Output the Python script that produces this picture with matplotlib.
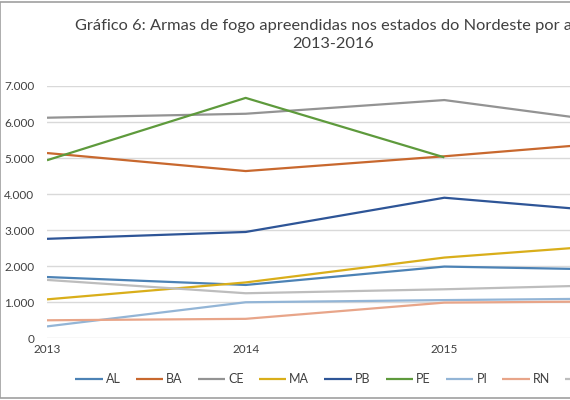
import numpy as np
import matplotlib.pyplot as plt
from matplotlib.patches import Rectangle

plt.rcParams['font.family'] = ['Lato', 'DejaVu Sans']

anos = ['2013', '2014', '2015', '2016']
estados = ['AL', 'BA', 'CE', 'MA', 'PB', 'PE', 'PI', 'RN', 'SE']

al = [1700, 1480, 1990, 1890]
ba = [5140, 4640, 5050, 5500]
ce = [6120, 6230, 6610, 5880]
ma = [1080, 1550, 2240, 2650]
pb = [2760, 2950, 3900, 3440]
pe = [4940, 6670, 5020, np.nan]
pi = [330, 1000, 1060, 1110]
rn = [500, 540, 990, 1030]
se = [1620, 1250, 1360, 1500]

series = [al, ba, ce, ma, pb, pe, pi, rn, se]
cores = ['#4C82B5', '#C8682E', '#939393', '#D9AE1A', '#2E5597',
         '#5E9A3C', '#93B5D6', '#E8A589', '#BDBDBD']

W, H = 570, 400
fig = plt.figure(figsize=(W / 100, H / 100), dpi=100)

# plot area runs past the right edge (the original picture is cropped)
x0, x1 = 47, 643
ytop, ybot = 86, 338.3
ax = fig.add_axes([x0 / W, (H - ybot) / H, (x1 - x0) / W, (ybot - ytop) / H])

x = np.arange(len(anos))
for nome, vals, cor in zip(estados, series, cores):
    ax.plot(x, vals, color=cor, lw=1.6, label=nome, solid_capstyle='butt')

ax.set_xlim(0, len(anos) - 1)
ax.set_ylim(0, 7000)
ax.set_yticks(np.arange(0, 7001, 1000))
ax.set_yticklabels(['0' if v == 0 else f'{v // 1000}.000' for v in range(0, 7001, 1000)])
ax.set_xticks(x)
ax.set_xticklabels(anos)
ax.grid(axis='y', color='#D9D9D9', lw=1)
ax.set_axisbelow(True)
for s in ax.spines.values():
    s.set_visible(False)
ax.tick_params(length=0, labelsize=8.5, colors='#404040')
ax.tick_params(axis='y', pad=9)
ax.tick_params(axis='x', pad=4)

fig.text(333 / W, (H - 35) / H, 'Gráfico 6: Armas de fogo apreendidas nos estados do Nordeste por ano\n2013-2016',
         ha='center', va='center', fontsize=11.8, color='#404040', linespacing=1.4)

h, l = ax.get_legend_handles_labels()
fig.legend(h, l, loc='center left', bbox_to_anchor=(75 / W, (H - 379) / H), ncol=9,
           frameon=False, fontsize=9, handlelength=2.2, handletextpad=0.25,
           columnspacing=1.2, borderpad=0, borderaxespad=0, labelcolor='#404040')

fig.add_artist(Rectangle((0, 0.004), 1.2, 0.992, transform=fig.transFigure,
                         fill=False, edgecolor='#A0A0A0', lw=1.2))

fig.savefig('out.png', dpi=100)
